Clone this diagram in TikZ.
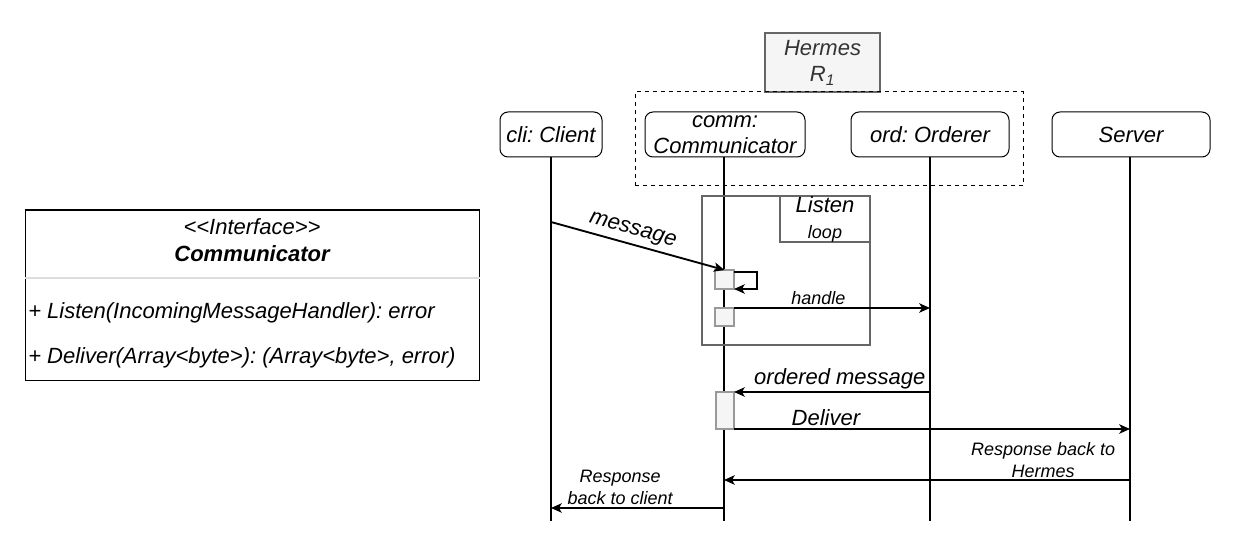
\documentclass[tikz,border=0pt]{standalone}
\usepackage{fontspec}
\setmainfont[Ligatures=TeXOff]{Liberation Sans}
\usetikzlibrary{arrows.meta}
\definecolor{actfill}{HTML}{F5F5F5}
\definecolor{actdraw}{HTML}{999999}
\definecolor{framec}{HTML}{666666}
\definecolor{hermestxt}{HTML}{333333}
\definecolor{sepc}{HTML}{DDDDDD}
\frenchspacing
\begin{document}
\begin{tikzpicture}[x=0.75pt,y=-0.75pt,
  big/.style={font=\fontsize{16.5}{20}\selectfont\itshape},
  small/.style={font=\fontsize{13.5}{16.5}\selectfont\itshape},
  actor/.style={draw, rounded corners=6pt, line width=0.75pt, minimum height=33.75pt, inner sep=1pt, align=center, big},
  lifeline/.style={line width=1.4pt},
  msg/.style={line width=1.4pt, -{Stealth[length=8pt,width=7pt,inset=2pt]}},
  act/.style={draw=actdraw, fill=actfill, line width=0.9pt, inner sep=0pt, outer sep=0pt},
  framebox/.style={draw=framec, line width=0.9pt},
  lbl/.style={inner sep=2pt}
]
\useasboundingbox (0,0) rectangle (1242,549);

% Hermes group
\node[draw=framec, fill=actfill, line width=0.9pt, minimum width=86.25pt, minimum height=44.25pt, inner sep=0pt, align=center, big, text=hermestxt] (hermes) at (822.5,62.5) {Hermes\\R\textsubscript{1}};
\node[draw, dashed, line width=0.75pt, minimum width=291pt, minimum height=70.5pt, inner sep=0pt] (group) at (829,139) {};

% actors
\node[actor, minimum width=76.5pt] (cli) at (551,134.5) {cli: Client};
\node[actor, minimum width=120pt, font=\fontsize{16.5}{19.5}\selectfont\itshape] (comm) at (725,134.5) {comm:\\Communicator};
\node[actor, minimum width=118.5pt] (ord) at (930,134.5) {ord: Orderer};
\node[actor, minimum width=118.5pt] (srv) at (1131,134.5) {Server};

% lifeline ends
\coordinate (cliend) at (551,521);
\coordinate (commend) at (724,521);
\coordinate (ordend) at (930,521);
\coordinate (srvend) at (1130,521);
\draw[lifeline] (cli.south) -- (cliend);
\draw[lifeline] (comm.south -| commend) -- (commend);
\draw[lifeline] (ord.south) -- (ordend);
\draw[lifeline] (srv.south -| srvend) -- (srvend);

% Listen loop frame
\node[framebox, minimum width=126pt, minimum height=111.75pt, inner sep=0pt] (loopframe) at (786,270.5) {};
\node[framebox, minimum width=67.5pt, minimum height=34.5pt, inner sep=0pt] (looptag) at (825,219) {};
\node[big, inner sep=0pt] (looptitle) at (825,205) {Listen};
\node[small, inner sep=0pt] (loopword) at (825,234) {loop};

% activation boxes
\node[act, minimum width=14.25pt, minimum height=14.25pt] (a1) at (724.5,279.5) {};
\node[act, minimum width=14.25pt, minimum height=13.5pt] (a2) at (724.5,317) {};
\node[act, minimum width=13.5pt, minimum height=27.75pt] (a3) at (725,410.5) {};

% message
\coordinate (m1) at (551,222);
\draw[msg] (m1) -- (a1.north) node[pos=0.45, sloped, above, big, inner sep=3pt] {message};

% self loop
\draw[msg] ([yshift=-1.5pt]a1.north east) -- ++(23,0) |- (a1.south east);

% handle
\coordinate (h1) at (930,308);
\draw[msg] (a2.north east) -- (h1) node[pos=0.43, above, small, lbl] {handle};

% ordered message
\coordinate (o1) at (930,392);
\draw[msg] (o1) -- (a3.north east) node[pos=0.46, above, big, inner sep=1.5pt] {ordered message};

% Deliver
\coordinate (d1) at (1130,429);
\draw[msg] (a3.south east) -- (d1) node[pos=0.232, above, big, lbl] {Deliver};

% Response back to Hermes
\coordinate (r1) at (1130,480);
\coordinate (r2) at (724,480);
\draw[msg] (r1) -- (r2) node[pos=0.214, above, small, align=center, inner sep=1pt] {Response back to\\Hermes};

% Response back to client
\coordinate (c1) at (724,508);
\coordinate (c2) at (551,508);
\draw[msg] (c1) -- (c2) node[pos=0.6, above, small, align=center, inner sep=2pt] {Response\\back to client};

% UML interface box
\node[draw, line width=0.75pt, minimum width=340.5pt, minimum height=127.5pt, inner sep=0pt] (uml) at (252,295) {};
\draw[sepc, line width=1.5pt] ([yshift=-51pt]uml.north west) -- ([yshift=-51pt]uml.north east);
\node[big, inner sep=0pt] (stereo) at (252,227) {<\kern0pt<Interface>\kern0pt>};
\node[big, font=\fontsize{16.5}{20}\selectfont\bfseries\itshape, inner sep=0pt] (iname) at (252,254) {Communicator};
\node[big, anchor=west, inner sep=0pt] (op1) at (28,313) {+ Listen(IncomingMessageHandler): error};
\node[big, anchor=west, inner sep=0pt] (op2) at (28,358) {+ Deliver(Array<byte>): (Array<byte>, error)};
\end{tikzpicture}
\end{document}
